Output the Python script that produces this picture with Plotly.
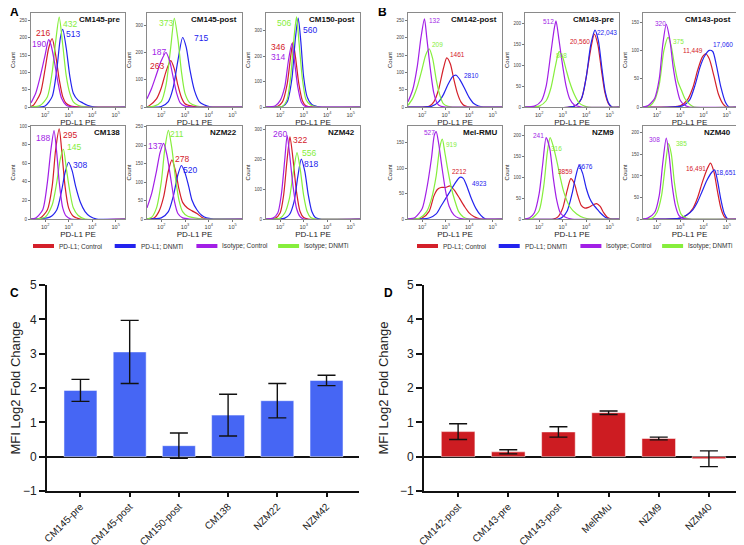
import numpy as np
import plotly.graph_objects as go

W, H = 744, 545
OFF = 8  # the page body adds an 8px margin, so positions are shifted back by it

# ---------------- data ----------------
# flow histograms: (log10 PD-L1 PE, count)
panels_a = ["CM145-pre", "CM145-post", "CM150-post", "CM138", "NZM22", "NZM42"]
panels_b = ["CM142-post", "CM143-pre", "CM143-post", "Mel-RMU", "NZM9", "NZM40"]

mfi_red = [216, 263, 346, 295, 278, 322, 1461, 20560, 11449, 2212, 3859, 16491]
mfi_blue = [513, 715, 560, 308, 520, 818, 2810, 22043, 17060, 4923, 5676, 18651]
mfi_purple = [190, 187, 314, 188, 137, 260, 132, 512, 320, 527, 241, 308]
mfi_green = [432, 373, 506, 145, 211, 556, 209, 808, 375, 919, 316, 385]

count_max = [272, 345, 370, 100, 252, 311, 272, 226, 166, 183, 223, 216]
count_step = [50, 100, 100, 20, 50, 100, 50, 50, 50, 50, 50, 50]

cm145_pre = {
    "red": [(1.4, 2), (1.5, 5), (1.8, 40), (2.0, 110), (2.15, 170), (2.3, 198), (2.45, 150), (2.6, 80),
            (2.75, 30), (2.9, 10), (3.1, 3), (3.5, 0), (5.4, 0)],
    "blue": [(1.4, 0), (2.0, 3), (2.3, 30), (2.5, 110), (2.65, 200), (2.75, 225), (2.9, 170), (3.05, 90),
             (3.2, 40), (3.4, 20), (3.6, 12), (3.8, 5), (4.1, 0), (5.4, 0)],
    "green": [(1.4, 0), (1.8, 5), (2.1, 30), (2.3, 100), (2.45, 190), (2.6, 260), (2.75, 180), (2.9, 90),
              (3.05, 40), (3.2, 15), (3.4, 5), (3.8, 0), (5.4, 0)],
    "purple": [(1.4, 12), (1.6, 40), (1.8, 90), (2.0, 150), (2.15, 195), (2.25, 180), (2.4, 130), (2.55, 70),
               (2.7, 25), (2.9, 5), (3.2, 0), (5.4, 0)],
}
cm145_post = {
    "red": [(1.4, 0), (1.5, 5), (1.8, 30), (2.0, 70), (2.2, 130), (2.4, 170), (2.55, 140), (2.7, 80),
            (2.85, 35), (3.0, 12), (3.3, 3), (3.7, 0), (5.4, 0)],
    "blue": [(1.4, 0), (2.0, 2), (2.3, 20), (2.5, 70), (2.7, 170), (2.9, 255), (3.05, 220), (3.2, 140),
             (3.4, 60), (3.6, 20), (3.8, 8), (4.1, 0), (5.4, 0)],
    "green": [(1.4, 0), (1.7, 3), (2.0, 20), (2.2, 80), (2.4, 220), (2.55, 325), (2.7, 250), (2.85, 130),
              (3.0, 50), (3.2, 15), (3.5, 3), (3.8, 0), (5.4, 0)],
    "purple": [(1.4, 30), (1.6, 70), (1.8, 120), (2.0, 170), (2.2, 200), (2.35, 170), (2.5, 110), (2.65, 50),
               (2.8, 15), (3.0, 3), (3.3, 0), (5.4, 0)],
}
cm150_post = {
    "red": [(1.4, 0), (1.9, 3), (2.1, 20), (2.3, 90), (2.45, 200), (2.55, 255), (2.65, 200), (2.8, 90),
            (2.95, 25), (3.1, 5), (3.4, 0), (5.4, 0)],
    "blue": [(1.4, 0), (2.1, 2), (2.3, 20), (2.5, 110), (2.65, 270), (2.77, 350), (2.88, 260), (3.0, 120),
             (3.15, 40), (3.35, 10), (3.7, 0), (5.4, 0)],
    "green": [(1.4, 0), (2.1, 3), (2.3, 30), (2.45, 120), (2.6, 280), (2.7, 355), (2.8, 260), (2.95, 110),
              (3.1, 30), (3.3, 8), (3.6, 0), (5.4, 0)],
    "purple": [(1.4, 0), (1.8, 5), (2.0, 25), (2.2, 80), (2.35, 180), (2.5, 250), (2.6, 190), (2.75, 80),
               (2.9, 20), (3.05, 3), (3.3, 0), (5.4, 0)],
}
cm138 = {
    "red": [(1.4, 0), (1.8, 1), (2.1, 10), (2.3, 35), (2.45, 75), (2.6, 97), (2.72, 70), (2.85, 35),
            (3.0, 12), (3.2, 3), (3.5, 0), (5.4, 0)],
    "blue": [(1.4, 0), (2.2, 2), (2.5, 10), (2.7, 30), (2.85, 50), (3.0, 61), (3.15, 52), (3.3, 35),
             (3.5, 18), (3.7, 8), (3.9, 3), (4.2, 0), (5.4, 0)],
    "green": [(1.4, 0), (2.0, 2), (2.3, 15), (2.5, 40), (2.65, 65), (2.78, 75), (2.9, 55), (3.05, 30),
              (3.2, 12), (3.4, 4), (3.7, 0), (5.4, 0)],
    "purple": [(1.4, 0), (1.6, 1), (1.9, 10), (2.1, 40), (2.25, 75), (2.38, 95), (2.5, 70), (2.6, 40),
               (2.75, 12), (2.9, 3), (3.1, 0), (5.4, 0)],
}
nzm22 = {
    "red": [(1.4, 0), (1.7, 3), (1.9, 20), (2.1, 60), (2.3, 130), (2.45, 160), (2.6, 130), (2.75, 80),
            (2.9, 45), (3.1, 30), (3.3, 22), (3.5, 15), (3.7, 5), (3.9, 0), (5.4, 0)],
    "blue": [(1.4, 0), (2.0, 3), (2.3, 20), (2.5, 60), (2.7, 120), (2.85, 145), (3.0, 125), (3.15, 90),
             (3.3, 50), (3.5, 25), (3.7, 10), (3.9, 3), (4.2, 0), (5.4, 0)],
    "green": [(1.4, 0), (1.6, 5), (1.8, 30), (2.0, 100), (2.15, 190), (2.3, 240), (2.45, 190), (2.6, 110),
              (2.75, 50), (2.9, 20), (3.1, 8), (3.4, 3), (3.8, 0), (5.4, 0)],
    "purple": [(1.4, 30), (1.6, 70), (1.8, 130), (1.95, 180), (2.1, 205), (2.25, 170), (2.4, 110),
               (2.55, 50), (2.7, 15), (2.9, 3), (3.2, 0), (5.4, 0)],
}
nzm42 = {
    "red": [(1.4, 0), (1.8, 3), (2.0, 20), (2.15, 80), (2.3, 200), (2.42, 275), (2.55, 200), (2.7, 90),
            (2.85, 25), (3.0, 5), (3.2, 0), (5.4, 0)],
    "blue": [(1.4, 0), (2.2, 3), (2.4, 15), (2.6, 60), (2.75, 140), (2.9, 200), (3.05, 160), (3.2, 80),
             (3.35, 25), (3.5, 5), (3.7, 0), (5.4, 0)],
    "green": [(1.4, 0), (2.0, 3), (2.2, 20), (2.4, 70), (2.55, 150), (2.72, 222), (2.85, 170), (3.0, 80),
              (3.15, 25), (3.3, 5), (3.5, 0), (5.4, 0)],
    "purple": [(1.4, 0), (1.7, 3), (1.9, 20), (2.05, 80), (2.2, 200), (2.3, 280), (2.4, 220), (2.55, 110),
               (2.7, 35), (2.85, 8), (3.0, 0), (5.4, 0)],
}
cm142_post = {
    "red": [(1.4, 0), (2.3, 2), (2.5, 15), (2.7, 50), (2.9, 110), (3.05, 142), (3.2, 125), (3.35, 80),
            (3.5, 40), (3.65, 15), (3.8, 4), (4.0, 0), (5.4, 0)],
    "blue": [(1.4, 0), (2.4, 2), (2.7, 15), (2.9, 35), (3.1, 65), (3.3, 88), (3.45, 92), (3.6, 80),
             (3.8, 55), (4.0, 28), (4.2, 10), (4.4, 3), (4.6, 0), (5.4, 0)],
    "green": [(1.4, 5), (1.6, 25), (1.8, 60), (2.0, 110), (2.15, 150), (2.3, 168), (2.45, 140), (2.6, 80),
              (2.75, 35), (2.9, 10), (3.1, 2), (3.3, 0), (5.4, 0)],
    "purple": [(1.4, 15), (1.6, 50), (1.8, 120), (1.95, 200), (2.1, 255), (2.2, 200), (2.35, 110),
               (2.5, 40), (2.65, 10), (2.8, 2), (3.0, 0), (5.4, 0)],
}
cm143_pre = {
    "red": [(1.4, 0), (3.5, 2), (3.8, 20), (4.0, 70), (4.2, 140), (4.35, 175), (4.5, 150), (4.65, 90),
            (4.8, 35), (4.95, 8), (5.1, 0), (5.4, 0)],
    "blue": [(1.4, 0), (3.5, 2), (3.8, 20), (4.0, 70), (4.2, 150), (4.38, 185), (4.52, 160), (4.68, 90),
             (4.82, 35), (4.97, 8), (5.1, 0), (5.4, 0)],
    "green": [(1.4, 0), (2.0, 2), (2.3, 15), (2.5, 45), (2.7, 100), (2.85, 133), (3.0, 120), (3.15, 90),
              (3.3, 60), (3.5, 30), (3.7, 10), (3.9, 3), (4.1, 0), (5.4, 0)],
    "purple": [(1.4, 0), (1.8, 2), (2.1, 15), (2.3, 50), (2.5, 130), (2.65, 190), (2.72, 207), (2.85, 160),
               (3.0, 100), (3.15, 50), (3.3, 20), (3.5, 5), (3.8, 0), (5.4, 0)],
}
cm143_post = {
    "red": [(1.4, 0), (3.0, 2), (3.3, 12), (3.55, 35), (3.75, 65), (3.95, 88), (4.1, 94), (4.25, 85),
            (4.45, 55), (4.65, 22), (4.85, 5), (5.0, 0), (5.4, 0)],
    "blue": [(1.4, 0), (3.1, 2), (3.4, 12), (3.65, 40), (3.85, 70), (4.05, 90), (4.25, 100), (4.4, 98),
             (4.55, 75), (4.75, 35), (4.95, 8), (5.1, 0), (5.4, 0)],
    "green": [(1.4, 0), (1.7, 2), (1.9, 12), (2.1, 40), (2.3, 100), (2.48, 123), (2.6, 110), (2.75, 75),
              (2.9, 45), (3.05, 30), (3.2, 15), (3.4, 5), (3.6, 0), (5.4, 0)],
    "purple": [(1.4, 0), (1.6, 2), (1.9, 15), (2.1, 50), (2.25, 110), (2.4, 146), (2.55, 120), (2.7, 70),
               (2.85, 35), (3.0, 12), (3.2, 3), (3.4, 0), (5.4, 0)],
}
mel_rmu = {
    "red": [(1.4, 0), (2.0, 2), (2.3, 15), (2.5, 45), (2.65, 58), (2.8, 62), (3.0, 62), (3.2, 65),
            (3.4, 55), (3.6, 40), (3.8, 25), (4.0, 12), (4.2, 5), (4.5, 0), (5.4, 0)],
    "blue": [(1.4, 0), (2.3, 2), (2.6, 10), (2.8, 25), (3.0, 40), (3.2, 55), (3.4, 70), (3.6, 82),
             (3.75, 80), (3.9, 65), (4.1, 40), (4.3, 20), (4.5, 7), (4.7, 0), (5.4, 0)],
    "green": [(1.4, 0), (1.9, 2), (2.2, 15), (2.4, 40), (2.6, 85), (2.75, 140), (2.86, 157), (2.97, 130),
              (3.1, 95), (3.25, 60), (3.4, 35), (3.55, 15), (3.75, 4), (4.0, 0), (5.4, 0)],
    "purple": [(1.4, 0), (1.7, 3), (2.0, 20), (2.2, 60), (2.4, 120), (2.52, 165), (2.6, 172), (2.7, 150),
               (2.85, 100), (3.0, 55), (3.15, 25), (3.35, 8), (3.55, 2), (3.8, 0), (5.4, 0)],
}
nzm9 = {
    "red": [(1.4, 0), (2.6, 0), (2.8, 5), (3.0, 25), (3.2, 70), (3.35, 97), (3.5, 85), (3.65, 55),
            (3.8, 32), (3.95, 26), (4.1, 28), (4.3, 34), (4.45, 37), (4.6, 30), (4.75, 15), (4.9, 4),
            (5.1, 0), (5.4, 0)],
    "blue": [(1.4, 0), (2.8, 0), (3.0, 5), (3.2, 20), (3.4, 60), (3.55, 100), (3.7, 128), (3.85, 110),
             (4.0, 75), (4.15, 50), (4.3, 35), (4.45, 25), (4.6, 15), (4.8, 5), (5.0, 0), (5.4, 0)],
    "green": [(1.4, 0), (1.7, 2), (2.0, 20), (2.2, 80), (2.35, 160), (2.47, 195), (2.6, 175), (2.75, 140),
              (2.9, 100), (3.05, 65), (3.3, 30), (3.6, 12), (3.9, 3), (4.2, 0), (5.4, 0)],
    "purple": [(1.4, 0), (1.6, 3), (1.8, 15), (2.0, 60), (2.15, 130), (2.3, 195), (2.45, 170), (2.6, 100),
               (2.75, 45), (2.9, 15), (3.1, 5), (3.4, 0), (5.4, 0)],
}
nzm40 = {
    "red": [(1.4, 0), (3.0, 2), (3.3, 10), (3.55, 25), (3.75, 50), (3.95, 85), (4.15, 115), (4.3, 130),
            (4.45, 110), (4.6, 65), (4.75, 25), (4.9, 5), (5.05, 0), (5.4, 0)],
    "blue": [(1.4, 0), (3.0, 2), (3.3, 10), (3.55, 22), (3.75, 40), (3.95, 65), (4.15, 90), (4.35, 108),
             (4.48, 114), (4.6, 90), (4.75, 45), (4.9, 12), (5.05, 0), (5.4, 0)],
    "green": [(1.4, 0), (1.8, 2), (2.0, 15), (2.2, 55), (2.35, 120), (2.5, 175), (2.62, 150), (2.75, 85),
              (2.9, 35), (3.05, 10), (3.25, 2), (3.5, 0), (5.4, 0)],
    "purple": [(1.4, 0), (1.6, 2), (1.9, 15), (2.1, 55), (2.25, 130), (2.4, 188), (2.52, 150), (2.65, 80),
               (2.8, 30), (2.95, 8), (3.1, 2), (3.3, 0), (5.4, 0)],
}
histograms = [cm145_pre, cm145_post, cm150_post, cm138, nzm22, nzm42,
              cm142_post, cm143_pre, cm143_post, mel_rmu, nzm9, nzm40]

# bar charts: MFI log2 fold change, mean +/- error
cats_c = ["CM145-pre", "CM145-post", "CM150-post", "CM138", "NZM22", "NZM42"]
fold_c = [1.93, 3.05, 0.32, 1.21, 1.63, 2.22]
err_c = [0.32, 0.92, 0.37, 0.61, 0.50, 0.15]
cats_d = ["CM142-post", "CM143-pre", "CM143-post", "MelRMu", "NZM9", "NZM40"]
fold_d = [0.73, 0.14, 0.72, 1.28, 0.53, -0.06]
err_d = [0.23, 0.06, 0.15, 0.05, 0.04, 0.23]

legend_labels = ["PD-L1; Control", "PD-L1; DNMTi", "Isotype; Control", "Isotype; DNMTi"]

# ---------------- styling ----------------
FONT = "Liberation Sans, Arial, sans-serif"
COLORS = {"red": "#D4202A", "blue": "#2323EE", "purple": "#A21FE6", "green": "#86EE3C"}
ORDER = ["red", "blue", "green", "purple"]
BAR_BLUE = "#4666F4"
BAR_RED = "#CD1C22"

# panel boxes in page pixels
cols_px = [(31, 125), (147, 242), (266, 360), (408, 502), (525, 619), (643, 736)]
rows_px = [(13, 107), (126, 219)]

# MFI label positions (log10 x, count) per panel: red, blue, purple, green
label_pos = [
    [(1.93, 214), (3.17, 210), (1.72, 182), (3.06, 240)],
    [(1.82, 152), (3.69, 255), (1.89, 202), (2.21, 308)],
    [(1.93, 237), (3.27, 303), (1.93, 197), (2.18, 329)],
    [(3.04, 90), (3.47, 58), (1.90, 87), (3.21, 77)],
    [(2.87, 163), (3.22, 134), (1.74, 197), (2.67, 230)],
    [(2.86, 264), (3.31, 184), (2.00, 284), (3.21, 220)],
    [(3.52, 152), (4.10, 91), (2.52, 249), (2.65, 180)],
    [(3.74, 158), (4.89, 180), (2.41, 205), (2.95, 124)],
    [(3.55, 100), (4.82, 111), (2.17, 147), (2.94, 115)],
    [(3.57, 94), (4.46, 70), (2.31, 170), (3.24, 147)],
    [(3.11, 113), (3.96, 125), (1.97, 200), (2.75, 170)],
    [(3.69, 118), (4.96, 108), (1.91, 185), (3.05, 176)],
]
label_size = [8.5] * 6 + [6.5] * 6


def px_x(a):
    return (a - OFF) / W


def px_y(b):
    return 1 - (b - OFF) / H


def xdom(a, b):
    return [px_x(a), px_x(b)]


def ydom(top, bottom):
    return [px_y(bottom), px_y(top)]


def fmt(v):
    return f"{v:,}" if v >= 10000 else str(v)


def aid(n):
    return "" if n == 1 else str(n)


fig = go.Figure()
layout = {}
annotations = []
shapes = []

names = panels_a + panels_b
for i, hist in enumerate(histograms):
    n = i + 1
    s = aid(n)
    side, k = divmod(i, 6)
    row, col = divmod(k, 3)
    cx = cols_px[side * 3 + col]
    ry = rows_px[row]
    for key in ORDER:
        pts = hist[key]
        fig.add_trace(go.Scatter(
            x=10 ** np.array([p[0] for p in pts]), y=[p[1] for p in pts],
            mode="lines", line=dict(color=COLORS[key], width=1.2, shape="spline", smoothing=0.7),
            xaxis=f"x{s}", yaxis=f"y{s}", showlegend=False, hoverinfo="skip",
        ))
    box = dict(showline=True, linecolor="#8a8a8a", linewidth=1, mirror=True, ticks="outside",
               ticklen=2, tickwidth=0.7, tickcolor="#777", showgrid=False, zeroline=False,
               automargin=False, tickfont=dict(size=4.5, color="#444", family=FONT))
    layout[f"xaxis{s}"] = dict(box, domain=xdom(*cx), anchor=f"y{s}", type="log", range=[1.4, 5.4],
                               dtick=1, exponentformat="power",
                               title=dict(text="PD-L1 PE", font=dict(size=8, color="#222", family=FONT),
                                          standoff=1))
    layout[f"yaxis{s}"] = dict(box, domain=ydom(*ry), anchor=f"x{s}", range=[0, count_max[i]],
                               dtick=count_step[i],
                               title=dict(text="Count", font=dict(size=6, color="#222", family=FONT),
                                          standoff=3))
    annotations.append(dict(x=0.965, y=0.935, xref=f"x{s} domain", yref=f"y{s} domain",
                            text=f"<b>{names[i]}</b>", showarrow=False, xanchor="right", yanchor="middle",
                            font=dict(size=8, color="#111", family=FONT)))
    vals = [mfi_red[i], mfi_blue[i], mfi_purple[i], mfi_green[i]]
    for (lx, ly), key, v in zip(label_pos[i], ["red", "blue", "purple", "green"], vals):
        annotations.append(dict(x=lx, y=ly, xref=f"x{s}", yref=f"y{s}", text=fmt(v), showarrow=False,
                                font=dict(size=label_size[i], color=COLORS[key], family=FONT)))

# legends under the histogram grids
for base in (33, 417):
    for j, (lab, key) in enumerate(zip(legend_labels, ["red", "blue", "purple", "green"])):
        x0 = base + j * 81.7
        shapes.append(dict(type="rect", xref="paper", yref="paper", x0=px_x(x0), x1=px_x(x0 + 21),
                           y0=px_y(248), y1=px_y(244), fillcolor=COLORS[key], line=dict(width=0)))
        annotations.append(dict(x=px_x(x0 + 24), y=px_y(246), xref="paper", yref="paper", text=lab,
                                showarrow=False, xanchor="left", yanchor="middle",
                                font=dict(size=6.5, color="#333", family=FONT)))

# bar charts C and D
for n, cats, vals, errs, color, (x0, x1) in [
    (13, cats_c, fold_c, err_c, BAR_BLUE, (47, 359)),
    (14, cats_d, fold_d, err_d, BAR_RED, (424, 742)),
]:
    fig.add_trace(go.Bar(
        x=cats, y=vals, width=0.67, marker=dict(color=color, line=dict(color="rgba(255,255,255,0.5)", width=1)),
        error_y=dict(type="data", array=errs, color="#111", thickness=1.4, width=9),
        xaxis=f"x{n}", yaxis=f"y{n}", showlegend=False,
    ))
    layout[f"xaxis{n}"] = dict(domain=xdom(x0, x1), anchor=f"y{n}", type="category", range=[-0.68, 5.66],
                               showline=True, linecolor="#111", linewidth=2, ticks="outside", ticklen=4,
                               tickwidth=1.5, tickcolor="#111", tickangle=-45, showgrid=False,
                               automargin=False, tickfont=dict(size=10, color="#222", family=FONT))
    layout[f"yaxis{n}"] = dict(domain=ydom(285, 491), anchor=f"x{n}", range=[-1, 5], dtick=1,
                               showline=True, linecolor="#111", linewidth=2, ticks="outside", ticklen=6,
                               tickwidth=1.5, tickcolor="#111", showgrid=False, automargin=False,
                               zeroline=True, zerolinecolor="#111", zerolinewidth=1.5,
                               tickfont=dict(size=12, color="#222", family=FONT),
                               title=dict(text="MFI Log2 Fold Change",
                                          font=dict(size=13, color="#222", family=FONT), standoff=8))

for letter, px, py in [("A", 8, 12), ("B", 376, 12), ("C", 8, 293), ("D", 382, 293)]:
    annotations.append(dict(x=px_x(px), y=px_y(py), xref="paper", yref="paper", text=f"<b>{letter}</b>",
                            showarrow=False, xanchor="left", yanchor="middle",
                            font=dict(size=12, color="#000", family=FONT)))

fig.update_layout(
    width=W, height=H, margin=dict(l=0, r=0, t=0, b=0),
    paper_bgcolor="white", plot_bgcolor="white",
    font=dict(family=FONT), annotations=annotations, shapes=shapes,
    **layout,
)

fig.write_html("out.html")
